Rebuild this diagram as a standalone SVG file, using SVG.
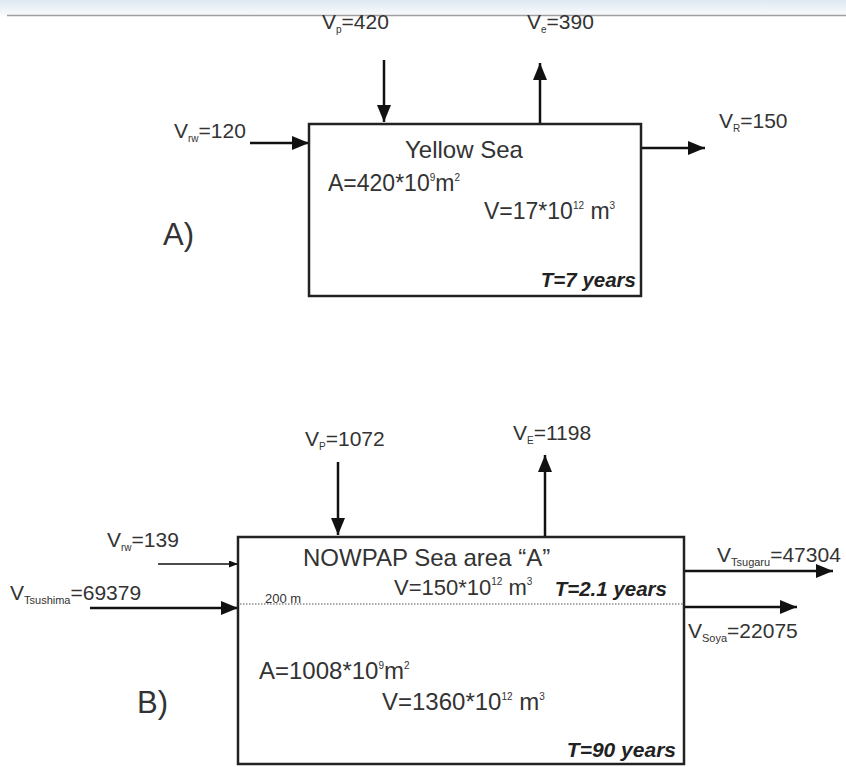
<svg xmlns="http://www.w3.org/2000/svg" width="846" height="767" viewBox="0 0 846 767">
<defs>
<linearGradient id="bg" x1="0" y1="0" x2="0" y2="1">
<stop offset="0" stop-color="#dfe9f3"/>
<stop offset="1" stop-color="#f7fafc"/>
</linearGradient>
<marker id="ah" markerUnits="userSpaceOnUse" markerWidth="18" markerHeight="14" refX="17" refY="7" orient="auto">
<path d="M0,0 L17,7 L0,14 z" fill="#111"/>
</marker>
<marker id="ahs" markerUnits="userSpaceOnUse" markerWidth="9" markerHeight="7" refX="9" refY="3.5" orient="auto">
<path d="M0,0 L9,3.5 L0,7 z" fill="#111"/>
</marker>
</defs>
<style>
.t{font-family:"Liberation Sans",Arial,sans-serif;fill:#333;font-size:21px}
.big{font-size:24px}
.mid{font-size:23px}
.sub{font-size:10px}
.lsub{font-size:11px}
.sup{font-size:10px}
.T{font-family:"Liberation Sans",Arial,sans-serif;fill:#222;font-size:20.5px;font-weight:bold;font-style:italic}
.box{fill:none;stroke:#222;stroke-width:2.5}
.ar{stroke:#111;stroke-width:2.5;fill:none;marker-end:url(#ah)}
</style>
<rect x="0" y="0" width="846" height="767" fill="#fff"/>
<rect x="0" y="0" width="846" height="15" fill="url(#bg)"/>
<line x1="7" y1="15.5" x2="846" y2="15.5" stroke="#a0a0a0" stroke-width="1.5"/>

<g id="connectors">
<line class="ar" x1="250" y1="143" x2="309" y2="143"/>
<line class="ar" x1="384" y1="60" x2="384" y2="122"/>
<line class="ar" x1="540" y1="124" x2="540" y2="63"/>
<line class="ar" x1="642" y1="148" x2="705" y2="148"/>
<line stroke="#111" stroke-width="1.3" marker-end="url(#ahs)" x1="158" y1="564" x2="238" y2="564"/>
<line class="ar" x1="90" y1="608" x2="238" y2="608"/>
<line class="ar" x1="338" y1="462" x2="338" y2="535"/>
<line class="ar" x1="545" y1="537" x2="545" y2="455"/>
<line class="ar" x1="685" y1="571" x2="833" y2="571"/>
<line class="ar" x1="685" y1="607" x2="797" y2="607"/>
</g>

<g id="yellow-sea">
<rect class="box" x="309" y="124" width="332" height="172"/>
<text class="t big" x="405" y="158">Yellow Sea</text>
<text class="t mid" x="328" y="191">A=420*10<tspan class="sup" dy="-10">9</tspan><tspan dy="10">m</tspan><tspan class="sup" dy="-10">2</tspan></text>
<text class="t mid" x="484" y="219">V=17*10<tspan class="sup" dy="-10">12</tspan><tspan dy="10"> m</tspan><tspan class="sup" dy="-10">3</tspan></text>
<text class="T" x="636" y="287" text-anchor="end">T=7 years</text>
</g>
<g id="label-A">
<text class="t" style="font-size:31px" x="163" y="245">A)</text>
</g>
<g id="labels-A">
<text class="t" x="174" y="138">V<tspan class="sub" dy="4">rw</tspan><tspan dy="-4">=120</tspan></text>
<text class="t" x="322" y="29">V<tspan class="sub" dy="4">p</tspan><tspan dy="-4">=420</tspan></text>
<text class="t" x="527" y="29">V<tspan class="sub" dy="4">e</tspan><tspan dy="-4">=390</tspan></text>
<text class="t" x="719" y="128">V<tspan class="sub" dy="4">R</tspan><tspan dy="-4">=150</tspan></text>
</g>

<g id="nowpap">
<rect class="box" x="238" y="537" width="446" height="227"/>
<line x1="240" y1="604" x2="684" y2="604" stroke="#555" stroke-width="1.2" stroke-dasharray="1.5,1.5"/>
<text class="t" style="font-size:13px" x="265" y="603">200 m</text>
<text class="t big" x="303" y="566">NOWPAP Sea area “A”</text>
<text class="t" style="font-size:22px" x="394" y="595">V=150*10<tspan class="sup" dy="-10">12</tspan><tspan dy="10"> m</tspan><tspan class="sup" dy="-10">3</tspan></text>
<text class="T" x="667" y="596" text-anchor="end">T=2.1 years</text>
<text class="t big" x="259" y="679">A=1008*10<tspan class="sup" dy="-10">9</tspan><tspan dy="10">m</tspan><tspan class="sup" dy="-10">2</tspan></text>
<text class="t big" x="382" y="710">V=1360*10<tspan class="sup" dy="-10">12</tspan><tspan dy="10"> m</tspan><tspan class="sup" dy="-10">3</tspan></text>
<text class="T" style="font-size:21px" x="676" y="757" text-anchor="end">T=90 years</text>
</g>
<g id="label-B">
<text class="t" style="font-size:31px" x="137" y="713">B)</text>
</g>
<g id="labels-B">
<text class="t" x="107" y="547">V<tspan class="sub" dy="4">rw</tspan><tspan dy="-4">=139</tspan></text>
<text class="t" x="10" y="600">V<tspan class="lsub" dy="4">Tsushima</tspan><tspan dy="-4">=69379</tspan></text>
<text class="t" x="305" y="446">V<tspan class="sub" dy="4">P</tspan><tspan dy="-4">=1072</tspan></text>
<text class="t" x="513" y="440">V<tspan class="sub" dy="4">E</tspan><tspan dy="-4">=1198</tspan></text>
<text class="t" x="717" y="562">V<tspan class="lsub" dy="4">Tsugaru</tspan><tspan dy="-4">=47304</tspan></text>
<text class="t" x="688" y="638">V<tspan class="lsub" dy="4">Soya</tspan><tspan dy="-4">=22075</tspan></text>
</g>
</svg>
